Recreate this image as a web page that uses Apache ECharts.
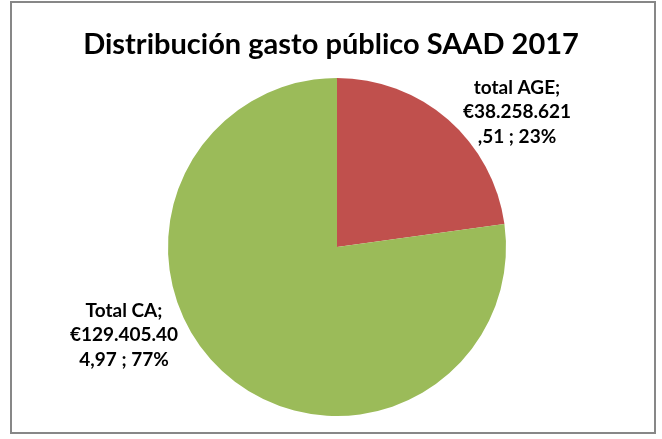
<!DOCTYPE html>
<html>
<head>
<meta charset="utf-8">
<script src="https://cdn.jsdelivr.net/npm/echarts@6/dist/echarts.min.js"></script>
<style>
	html, body { margin: 0; padding: 0; background: #fff; }
	#chart { width: 662px; height: 439px; }
</style>
</head>
<body>
<div id="chart"></div>
<script>
// Data
var names = ['total AGE', 'Total CA']
var values = [38258621.51, 129405404.97]
var colors = ['#C0504D', '#9BBB59']

// Spanish number format, e.g. 38.258.621,51
function fmtEuro(v) {
	var parts = v.toFixed(2).split('.')
	var intPart = parts[0].replace(/\B(?=(\d{3})+(?!\d))/g, '.')
	return '€' + intPart + ',' + parts[1]
}

var chart = echarts.init(document.getElementById('chart'))

// Label anchor points (center of each label block)
var labelPos = [
	{ x: 517, y: 112 },
	{ x: 124, y: 335 },
]

var option = {
	animation: false,
	title: {
		text: 'Distribución gasto público SAAD 2017',
		left: 'center',
		top: 25,
		textStyle: {
			fontFamily: 'Lato',
			fontWeight: 'bold',
			fontSize: 29,
			color: '#000',
		},
	},
	graphic: [
		{
			type: 'rect',
			shape: { x: 11, y: 2, width: 644, height: 431 },
			style: { fill: 'none', stroke: '#878787', lineWidth: 2 },
		},
	],
	series: [
		{
			type: 'pie',
			center: [337, 247],
			radius: 169,
			startAngle: 90,
			clockwise: true,
			label: {
				show: true,
				position: 'outside',
				fontFamily: 'Lato',
				fontWeight: 'bold',
				fontSize: 19,
				lineHeight: 24.5,
				color: '#000',
				align: 'center',
				formatter: (p) => {
					const s = fmtEuro(p.value)
					return p.name + ';\n' + s.slice(0, 11) + '\n' + s.slice(11) + ' ; ' + Math.round(p.percent) + '%'
				},
			},
			labelLine: { show: false },
			labelLayout: (params) => {
				const pos = labelPos[params.dataIndex]
				return { x: pos.x, y: pos.y, align: 'center', verticalAlign: 'middle' }
			},
			itemStyle: { borderWidth: 0 },
			emphasis: { disabled: true },
			data: names.map((n, i) => ({ name: n, value: values[i], itemStyle: { color: colors[i] } })),
		},
	],
}

chart.setOption(option)
</script>
</body>
</html>
